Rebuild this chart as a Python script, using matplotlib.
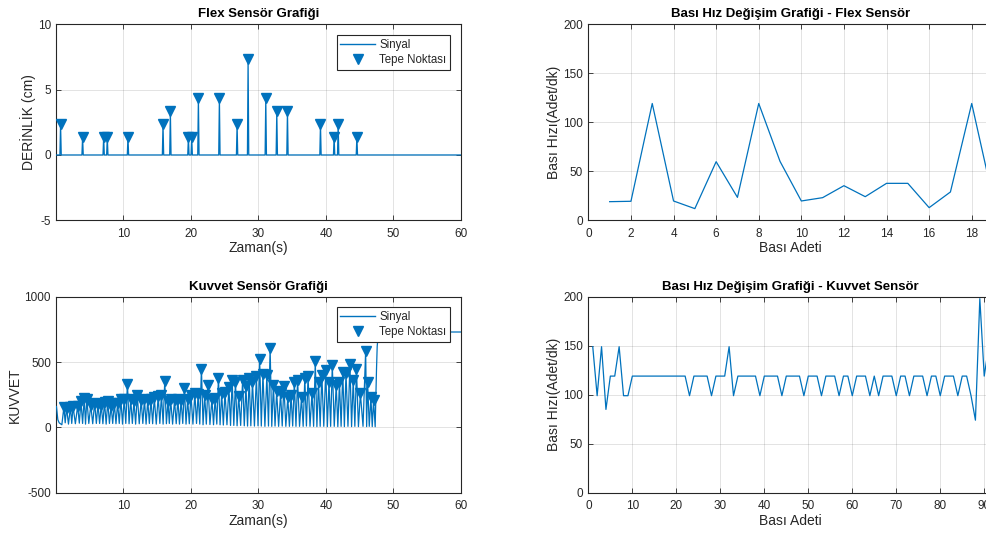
import matplotlib
matplotlib.use("Agg")
import matplotlib.pyplot as plt
from matplotlib.lines import Line2D

plt.rcParams["font.family"] = ["Liberation Sans", "DejaVu Sans"]
plt.rcParams["axes.unicode_minus"] = False

BLUE = "#0072BD"
DARK = "#262626"

# --- Flex sensor: detected peaks (s, cm) ---
flex_peak_t = [0.71, 3.97, 7.09, 7.63, 10.69, 15.88, 16.97, 19.64, 20.13, 21.12,
               24.23, 26.85, 28.48, 31.10, 32.73, 34.31, 39.20, 41.22, 41.82, 44.59]
flex_peak_v = [2.37, 1.37, 1.37, 1.37, 1.37, 2.37, 3.37, 1.37, 1.37, 4.37,
               4.37, 2.37, 7.37, 4.37, 3.37, 3.37, 2.37, 1.37, 2.37, 1.37]
flex_t_range = [0.1, 60.0]

# press rate for flex sensor (per press index 1..19)
flex_rate = [19.0, 19.4, 119.2, 19.7, 11.9, 59.8, 23.4, 119.2, 60.1, 19.7,
             23.1, 35.3, 24.1, 37.7, 37.7, 12.9, 28.9, 119.2, 22.0]

# --- Force sensor ---
kuvvet_start_t = [0.1, 0.3, 0.5, 0.9]
kuvvet_start_v = [160, 60, 35, 20]

kuvvet_peak_t = [
    1.20, 1.59, 2.17, 2.56, 3.24, 3.73, 4.21, 4.60, 5.18, 5.76,
    6.25, 6.73, 7.22, 7.70, 8.19, 8.67, 9.16, 9.64, 10.13, 10.61,
    11.10, 11.58, 12.07, 12.65, 13.13, 13.62, 14.10, 14.59, 15.17, 15.65,
    16.14, 16.62, 17.01, 17.59, 18.08, 18.56, 19.05, 19.53, 20.02, 20.60,
    21.08, 21.57, 22.05, 22.54, 23.12, 23.60, 24.09, 24.57, 25.06, 25.64,
    26.12, 26.61, 27.09, 27.67, 28.16, 28.64, 29.13, 29.71, 30.19, 30.68,
    31.26, 31.74, 32.23, 32.71, 33.29, 33.78, 34.36, 34.84, 35.33, 35.81,
    36.39, 36.88, 37.36, 37.94, 38.43, 38.91, 39.40, 39.98, 40.46, 40.95,
    41.53, 42.01, 42.50, 42.98, 43.56, 44.05, 44.53, 45.11, 45.89, 46.18,
    46.67, 47.06]
kuvvet_peak_v = [
    155, 150, 155, 160, 165, 200, 225, 220, 170, 190,
    180, 175, 195, 200, 165, 185, 190, 215, 220, 335,
    215, 200, 250, 210, 215, 210, 215, 230, 240, 250,
    355, 200, 215, 210, 215, 210, 305, 215, 250, 260,
    255, 450, 250, 325, 215, 225, 380, 260, 270, 310,
    360, 350, 240, 365, 315, 380, 350, 390, 525, 410,
    400, 610, 325, 275, 260, 320, 230, 245, 345, 365,
    230, 375, 390, 260, 505, 350, 400, 440, 350, 475,
    325, 345, 425, 415, 485, 365, 445, 260, 585, 350,
    230, 210]
kuvvet_valley_v = [
    35, 25, 30, 28, 32, 30, 25, 30, 28, 30,
    30, 28, 25, 30, 30, 28, 30, 25, 30, 28,
    30, 25, 28, 30, 25, 30, 28, 25, 30, 25,
    28, 30, 25, 28, 25, 30, 25, 28, 25, 30,
    25, 20, 25, 22, 20, 25, 20, 18, 20, 15,
    15, 12, 15, 12, 10, 12, 10, 12, 10, 8,
    10, 8, 10, 8, 10, 8, 8, 10, 8, 8,
    8, 10, 8, 8, 6, 8, 8, 6, 8, 8,
    6, 8, 6, 8, 6, 8, 6, 8, 6, 8, 6]
kuvvet_end_t = [47.30, 47.50, 47.60, 47.75, 47.95, 60.0]
kuvvet_end_v = [5, 450, 620, 710, 730, 730]

# press rate for force sensor (per press index 1..91)
kuvvet_rate = [
    149, 99, 149, 85, 119, 119, 149, 99, 99, 119,
    119, 119, 119, 119, 119, 119, 119, 119, 119, 119,
    119, 119, 99, 119, 119, 119, 119, 99, 119, 119,
    119, 149, 99, 119, 119, 119, 119, 119, 99, 119,
    119, 119, 119, 99, 119, 119, 119, 119, 99, 119,
    119, 119, 99, 119, 119, 119, 99, 119, 119, 99,
    119, 119, 119, 99, 119, 99, 119, 119, 119, 99,
    119, 119, 99, 119, 119, 119, 99, 119, 119, 99,
    119, 119, 119, 99, 119, 119, 99, 74, 198, 119, 149]


def build_flex_signal():
    t = [flex_t_range[0]]
    v = [0.0]
    for pt, pv in zip(flex_peak_t, flex_peak_v):
        t += [pt - 0.1, pt, pt + 0.1]
        v += [0.0, pv, 0.0]
    t.append(flex_t_range[1])
    v.append(0.0)
    return t, v


def build_kuvvet_signal():
    t = list(kuvvet_start_t)
    v = list(kuvvet_start_v)
    n = len(kuvvet_peak_t)
    for i in range(n):
        t.append(kuvvet_peak_t[i])
        v.append(kuvvet_peak_v[i])
        if i < n - 1:
            t.append(0.5 * (kuvvet_peak_t[i] + kuvvet_peak_t[i + 1]))
            v.append(kuvvet_valley_v[i])
    t += kuvvet_end_t
    v += kuvvet_end_v
    return t, v


def style(ax):
    ax.grid(True, color=DARK, alpha=0.15, linewidth=0.6)
    ax.set_axisbelow(True)
    ax.tick_params(direction="in", top=True, right=True, length=3.5,
                   width=0.6, colors=DARK, labelsize=8.5, pad=4)
    ax.tick_params(axis="x", pad=5.5)
    for s in ax.spines.values():
        s.set_color(DARK)
        s.set_linewidth(0.8)


def add_legend(ax, top):
    handles = [Line2D([], [], color=BLUE, lw=1.0),
               Line2D([], [], color=BLUE, lw=0, marker="v", ms=7)]
    leg = ax.legend(handles, ["Sinyal", "Tepe Noktası"], loc="upper right",
                    bbox_to_anchor=(0.973, top), borderaxespad=0,
                    fancybox=False, framealpha=1, edgecolor=DARK,
                    fontsize=8.3, handlelength=3.0, handletextpad=0.4,
                    borderpad=0.3, labelspacing=0.3)
    leg.get_frame().set_linewidth(0.8)
    for txt in leg.get_texts():
        txt.set_color(DARK)


fig = plt.figure(figsize=(9.87, 5.33), dpi=100)
ax1 = fig.add_axes([0.0572, 0.5867, 0.4098, 0.3677])
ax2 = fig.add_axes([0.5961, 0.5867, 0.4100, 0.3677])
ax3 = fig.add_axes([0.0572, 0.0756, 0.4098, 0.3677])
ax4 = fig.add_axes([0.5961, 0.0756, 0.4100, 0.3677])

title_kw = dict(fontsize=9.5, fontweight="bold", color="black", pad=5)
label_kw = dict(fontsize=10, color=DARK)

# Flex signal
ft, fv = build_flex_signal()
ax1.plot(ft, fv, color=BLUE, lw=0.9, zorder=3)
ax1.plot(flex_peak_t, flex_peak_v, "v", color=BLUE, ms=7, zorder=4)
ax1.set_xlim(0.1, 60)
ax1.set_ylim(-5, 10)
ax1.set_xticks([10, 20, 30, 40, 50, 60])
ax1.set_yticks([-5, 0, 5, 10])
ax1.set_title("Flex Sensör Grafiği", **title_kw)
ax1.set_xlabel("Zaman(s)", labelpad=1, **label_kw)
ax1.set_ylabel("DERİNLİK (cm)", labelpad=1.5, **label_kw)
style(ax1)
add_legend(ax1, 0.944)

# Flex press rate
ax2.plot(range(1, len(flex_rate) + 1), flex_rate, color=BLUE, lw=0.9)
ax2.set_xlim(0, 19)
ax2.set_ylim(0, 200)
ax2.set_xticks(range(0, 20, 2))
ax2.set_yticks([0, 50, 100, 150, 200])
ax2.set_title("Bası Hız Değişim Grafiği - Flex Sensör", **title_kw)
ax2.set_xlabel("Bası Adeti", labelpad=1, **label_kw)
ax2.set_ylabel("Bası Hızı(Adet/dk)", labelpad=1.5, **label_kw)
style(ax2)

# Force signal
kt, kv = build_kuvvet_signal()
ax3.plot(kt, kv, color=BLUE, lw=0.9, zorder=3)
ax3.plot(kuvvet_peak_t, kuvvet_peak_v, "v", color=BLUE, ms=7, zorder=4)
ax3.set_xlim(0.1, 60)
ax3.set_ylim(-500, 1000)
ax3.set_xticks([10, 20, 30, 40, 50, 60])
ax3.set_yticks([-500, 0, 500, 1000])
ax3.set_title("Kuvvet Sensör Grafiği", **title_kw)
ax3.set_xlabel("Zaman(s)", labelpad=1, **label_kw)
ax3.set_ylabel("KUVVET", labelpad=1.5, **label_kw)
style(ax3)
add_legend(ax3, 0.946)

# Force press rate
ax4.plot(range(1, len(kuvvet_rate) + 1), kuvvet_rate, color=BLUE, lw=0.9)
ax4.set_xlim(0, 92)
ax4.set_ylim(0, 200)
ax4.set_xticks(range(0, 100, 10))
ax4.set_yticks([0, 50, 100, 150, 200])
ax4.set_title("Bası Hız Değişim Grafiği - Kuvvet Sensör", **title_kw)
ax4.set_xlabel("Bası Adeti", labelpad=1, **label_kw)
ax4.set_ylabel("Bası Hızı(Adet/dk)", labelpad=1.5, **label_kw)
style(ax4)

fig.savefig("out.png", dpi=100)
